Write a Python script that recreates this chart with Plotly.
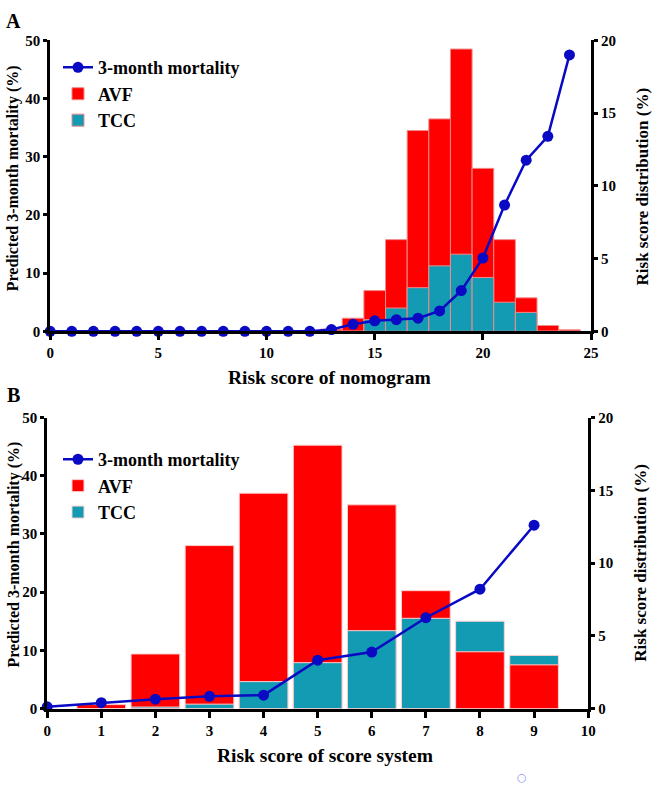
import plotly.graph_objects as go

# ---------------- data ----------------
score_a = list(range(0, 25))
mort_a = [0, 0, 0, 0, 0, 0, 0, 0, 0, 0, 0, 0, 0, 0.3, 1.2, 1.8, 2.0, 2.25, 3.5, 7.0, 12.6, 21.7, 29.4, 33.5, 47.5]
bins_a = list(range(13, 25))
avf_a = [0.15, 0.9, 2.8, 6.3, 13.8, 14.6, 19.4, 11.2, 6.3, 2.3, 0.4, 0.1]
tcc_a = [0, 0, 0.8, 1.6, 3.0, 4.5, 5.3, 3.7, 2.0, 1.3, 0, 0]

score_b = list(range(0, 10))
mort_b = [0.3, 1.0, 1.6, 2.1, 2.3, 8.3, 9.7, 15.6, 20.5, 31.5]
bins_b = list(range(1, 10))
avf_b = [0.27, 3.75, 11.2, 14.8, 18.1, 14.0, 8.1, 3.9, 3.0]
tcc_b = [0, 0.1, 0.3, 1.85, 3.15, 5.35, 6.2, 6.0, 3.65]

left_ticks = [0, 10, 20, 30, 40, 50]
right_ticks = [0, 5, 10, 15, 20]
xticks_a = [0, 5, 10, 15, 20, 25]
xticks_b = list(range(0, 11))

RED = "#ff0000"
TEAL = "#129bb3"
BLUE = "#0a0ac4"
FONT = "Liberation Serif"

W, H = 659, 790
def px(x):
    return x / W
def py(y):
    return 1 - y / H

fig = go.Figure()

def add_panel(xa, ybar, yline, legend, score, mort, bins, avf, tcc, width, edge):
    fig.add_trace(go.Bar(x=bins, y=avf, name="AVF", marker=dict(color=RED, line=dict(color=edge, width=1)),
                         width=width, xaxis=xa, yaxis=ybar, legend=legend, legendrank=2))
    fig.add_trace(go.Bar(x=bins, y=tcc, name="TCC", marker=dict(color=TEAL, line=dict(color=edge, width=1)),
                         width=width, xaxis=xa, yaxis=ybar, legend=legend, legendrank=3))
    front = [a if a < t else None for a, t in zip(avf, tcc)]
    fig.add_trace(go.Bar(x=bins, y=front, name="AVF", marker=dict(color=RED, line=dict(color=edge, width=1)),
                         width=width, xaxis=xa, yaxis=ybar, legend=legend, showlegend=False))
    fig.add_trace(go.Scatter(x=score, y=mort, name="3-month mortality", mode="lines+markers",
                             line=dict(color=BLUE, width=2.5), marker=dict(color=BLUE, size=11),
                             cliponaxis=False, xaxis=xa, yaxis=yline, legend=legend, legendrank=1))

add_panel("x", "y", "y2", "legend", score_a, mort_a, bins_a, avf_a, tcc_a, 1.0, "#f08a8a")
add_panel("x2", "y3", "y4", "legend2", score_b, mort_b, bins_b, avf_b, tcc_b, 0.9, "#ffd0d0")

tickfont = dict(family=FONT, size=15, color="black", weight="bold")
xcommon = dict(showline=True, linecolor="black", linewidth=3, ticks="outside", ticklen=6,
               tickwidth=3, tickcolor="black", showgrid=False, zeroline=False, tickfont=tickfont)
ycommon = dict(xcommon, ticklen=4)

legfont = dict(family=FONT, size=18, color="black", weight="bold")
fig.update_layout(
    width=W, height=H, margin=dict(l=0, r=0, t=0, b=0),
    paper_bgcolor="white", plot_bgcolor="white", barmode="overlay", showlegend=True,
    xaxis=dict(domain=[px(47), px(598)], range=[0, 25], tickvals=xticks_a, anchor="y", **xcommon),
    yaxis=dict(domain=[py(330), py(33)], range=[0, 20], tickvals=right_ticks, side="right", anchor="x", **ycommon),
    yaxis2=dict(range=[0, 50], tickvals=left_ticks, side="left", overlaying="y", anchor="x", **ycommon),
    xaxis2=dict(domain=[px(44), px(595)], range=[0, 10], tickvals=xticks_b, anchor="y3", **xcommon),
    yaxis3=dict(domain=[py(715), py(418)], range=[0, 20], tickvals=right_ticks, side="right", anchor="x2", **ycommon),
    yaxis4=dict(range=[0, 50], tickvals=left_ticks, side="left", overlaying="y3", anchor="x2", **ycommon),
    legend=dict(x=px(55), y=py(42), xanchor="left", yanchor="top", bgcolor="rgba(0,0,0,0)",
                font=legfont, traceorder="normal"),
    legend2=dict(x=px(55), y=py(442), xanchor="left", yanchor="top", bgcolor="rgba(0,0,0,0)",
                 font=legfont, traceorder="normal"),
)

xtfont = dict(family=FONT, size=19.5, color="black", weight="bold")
ytfont = dict(family=FONT, size=16, color="black", weight="bold")
rtfont = dict(family=FONT, size=17, color="black", weight="bold")
ann = [
    dict(text="A", x=px(10), y=py(13), font=dict(family=FONT, size=20, color="black", weight="bold")),
    dict(text="B", x=px(10), y=py(395), font=dict(family=FONT, size=20, color="black", weight="bold")),
    dict(text="Risk score of nomogram", x=px(332), y=py(377), font=xtfont),
    dict(text="Risk score of score system", x=px(327), y=py(763), font=xtfont),
    dict(text="Predicted 3-month mortality (%)", x=px(10), y=py(174), textangle=-90, font=ytfont),
    dict(text="Predicted 3-month mortality (%)", x=px(10), y=py(558), textangle=-90, font=ytfont),
    dict(text="Risk score distribution (%)", x=px(650), y=py(182), textangle=-90, font=rtfont),
    dict(text="Risk score distribution (%)", x=px(648), y=py(566), textangle=-90, font=rtfont),
    dict(text="○", x=px(528), y=py(785), font=dict(family="DejaVu Sans", size=11, color="#8f8ff0")),
]
for a in ann:
    fig.add_annotation(xref="paper", yref="paper", showarrow=False, xanchor="center", yanchor="middle", **a)

fig.write_html("out.html")
